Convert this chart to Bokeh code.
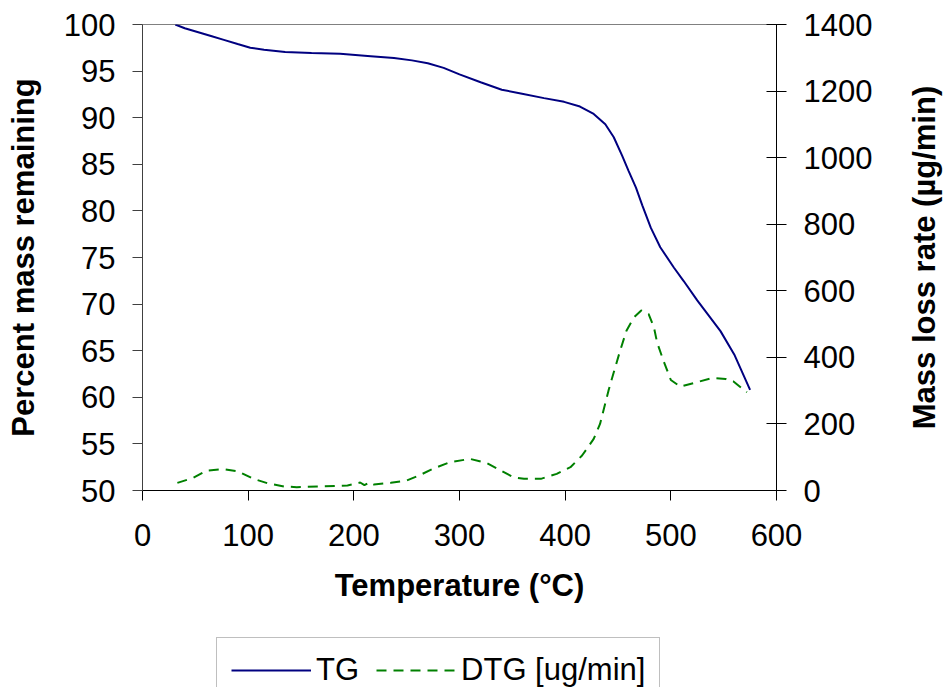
import math
from bokeh.plotting import figure
from bokeh.layouts import column, row
from bokeh.models import Range1d, LinearAxis, FixedTicker, Legend, LegendItem, Label
from bokeh.embed import file_html
from bokeh.resources import INLINE

# ---- data ----
temp_tg = [31, 40, 52, 64, 77, 90, 102, 115, 135, 160, 187, 216, 238, 255, 270,
           285, 300, 320, 340, 358, 380, 399, 414, 427, 438, 446, 454, 460, 467,
           473, 481, 490, 503, 512, 525, 547, 560, 575]
mass_tg = [100.0, 99.6, 99.2, 98.8, 98.35, 97.9, 97.5, 97.3, 97.05, 96.95, 96.85,
           96.6, 96.4, 96.15, 95.85, 95.35, 94.65, 93.8, 93.0, 92.6, 92.1, 91.7,
           91.2, 90.4, 89.3, 87.9, 85.9, 84.3, 82.5, 80.6, 78.2, 76.1, 73.9, 72.5,
           70.4, 67.1, 64.6, 60.8]

temp_dtg = [33, 48, 61, 77, 90, 105, 118, 134, 146, 168, 194, 206, 210, 215, 219,
            235, 250, 263, 276, 291, 310, 326, 339, 351, 361, 377, 392, 405, 416,
            427, 433, 441, 446, 452, 458, 465, 472, 479, 484, 487, 493, 500, 509,
            522, 539, 552, 559, 572]
rate_dtg = [23, 38, 60, 64, 58, 35, 22, 12, 10, 12, 15, 24, 16, 25, 18,
            23, 30, 47, 67, 85, 95, 82, 60, 40, 35, 35, 50, 70, 105,
            155, 200, 300, 355, 420, 480, 520, 541, 530, 490, 445, 390, 332, 312,
            323, 338, 335, 328, 295]

x_ticks = [0, 100, 200, 300, 400, 500, 600]
left_ticks = [50, 55, 60, 65, 70, 75, 80, 85, 90, 95, 100]
right_ticks = [0, 200, 400, 600, 800, 1000, 1200, 1400]

x_title = "Temperature (°C)"
left_title = "Percent mass remaining"
right_title = "Mass loss rate (µg/min)"
legend_labels = ["TG", "DTG [ug/min]"]

FONT = "Liberation Sans"
FS = "31px"
TG_COLOR = "#000080"
DTG_COLOR = "#008000"
DTG_DASH = "10 7"

# ---- main chart ----
p = figure(width=905, height=636, output_backend="svg", toolbar_location=None,
           x_range=Range1d(0, 600), y_range=Range1d(50, 100),
           min_border_left=142, min_border_right=129,
           min_border_top=24, min_border_bottom=146,
           x_axis_label=x_title, y_axis_label=left_title)
p.extra_y_ranges = {"dtg": Range1d(0, 1400)}
p.grid.visible = False
p.outline_line_color = "#808080"
p.outline_line_width = 1
p.background_fill_color = "white"
p.border_fill_color = "white"


def style_axis(ax, ticks, tick_in, tick_out, standoff, label_standoff, color):
    ax.ticker = FixedTicker(ticks=ticks)
    ax.minor_tick_line_color = None
    ax.major_tick_in = tick_in
    ax.major_tick_out = tick_out
    ax.axis_line_color = color
    ax.major_tick_line_color = color
    ax.axis_line_width = 1
    ax.major_tick_line_width = 1
    ax.major_label_text_font = FONT
    ax.major_label_text_font_size = FS
    ax.major_label_text_color = "black"
    ax.major_label_standoff = standoff
    ax.axis_label_text_font = FONT
    ax.axis_label_text_font_size = FS
    ax.axis_label_text_font_style = "bold"
    ax.axis_label_text_color = "black"
    ax.axis_label_standoff = label_standoff


style_axis(p.xaxis[0], x_ticks, 0, 10, 23, 19, "black")
style_axis(p.yaxis[0], left_ticks, 0, 10, 17, 20, "#404040")

raxis = LinearAxis(y_range_name="dtg")
style_axis(raxis, right_ticks, 10, 10, 17, 0, "black")
p.add_layout(raxis, "right")

tg_r = p.line(temp_tg, mass_tg, line_color=TG_COLOR, line_width=2)
dtg_r = p.line(temp_dtg, rate_dtg, line_color=DTG_COLOR, line_width=2,
               line_dash=DTG_DASH, y_range_name="dtg")

# ---- strip at the right holding the secondary-axis title (reads bottom to top) ----
strip = figure(width=38, height=636, output_backend="svg", toolbar_location=None,
               x_range=Range1d(0, 38), y_range=Range1d(0, 1),
               x_axis_type=None, y_axis_type=None,
               min_border_left=0, min_border_right=0,
               min_border_top=24, min_border_bottom=146)
strip.grid.visible = False
strip.outline_line_color = None
strip.background_fill_color = "white"
strip.border_fill_color = "white"
strip.add_layout(Label(x=19, y=0.5, text=right_title, angle=math.pi / 2,
                       text_align="center", text_baseline="middle",
                       text_font=FONT, text_font_size=FS, text_font_style="bold",
                       text_color="black"))

# ---- legend strip below the chart (cut off at the page bottom, as in the reference) ----
leg = figure(width=943, height=51, output_backend="svg", toolbar_location=None,
             x_range=Range1d(0, 1), y_range=Range1d(0, 1),
             x_axis_type=None, y_axis_type=None,
             min_border_left=142, min_border_right=167,
             min_border_top=0, min_border_bottom=0)
leg.grid.visible = False
leg.outline_line_color = None
leg.background_fill_color = "white"
leg.border_fill_color = "white"
# key glyphs: same series, lying outside this strip's ranges (only their legend swatches show)
k_tg = leg.line(temp_tg, mass_tg, line_color=TG_COLOR, line_width=2)
k_dtg = leg.line(temp_dtg, rate_dtg, line_color=DTG_COLOR, line_width=2, line_dash=DTG_DASH)

legend = Legend(items=[LegendItem(label=legend_labels[0], renderers=[k_tg]),
                       LegendItem(label=legend_labels[1], renderers=[k_dtg])],
                orientation="horizontal", location=(74, -16))
legend.label_text_font = FONT
legend.label_text_font_size = FS
legend.label_text_color = "black"
legend.glyph_width = 80
legend.glyph_height = 20
legend.label_height = 36
legend.label_standoff = 5
legend.spacing = 17
legend.padding = 14
legend.margin = 0
legend.border_line_color = "#808080"
legend.border_line_width = 1
legend.background_fill_color = "white"
legend.background_fill_alpha = 1
leg.add_layout(legend, "center")

layout = column(row(p, strip, spacing=0), leg, spacing=0)
open("out.html", "w").write(file_html(layout, INLINE))
